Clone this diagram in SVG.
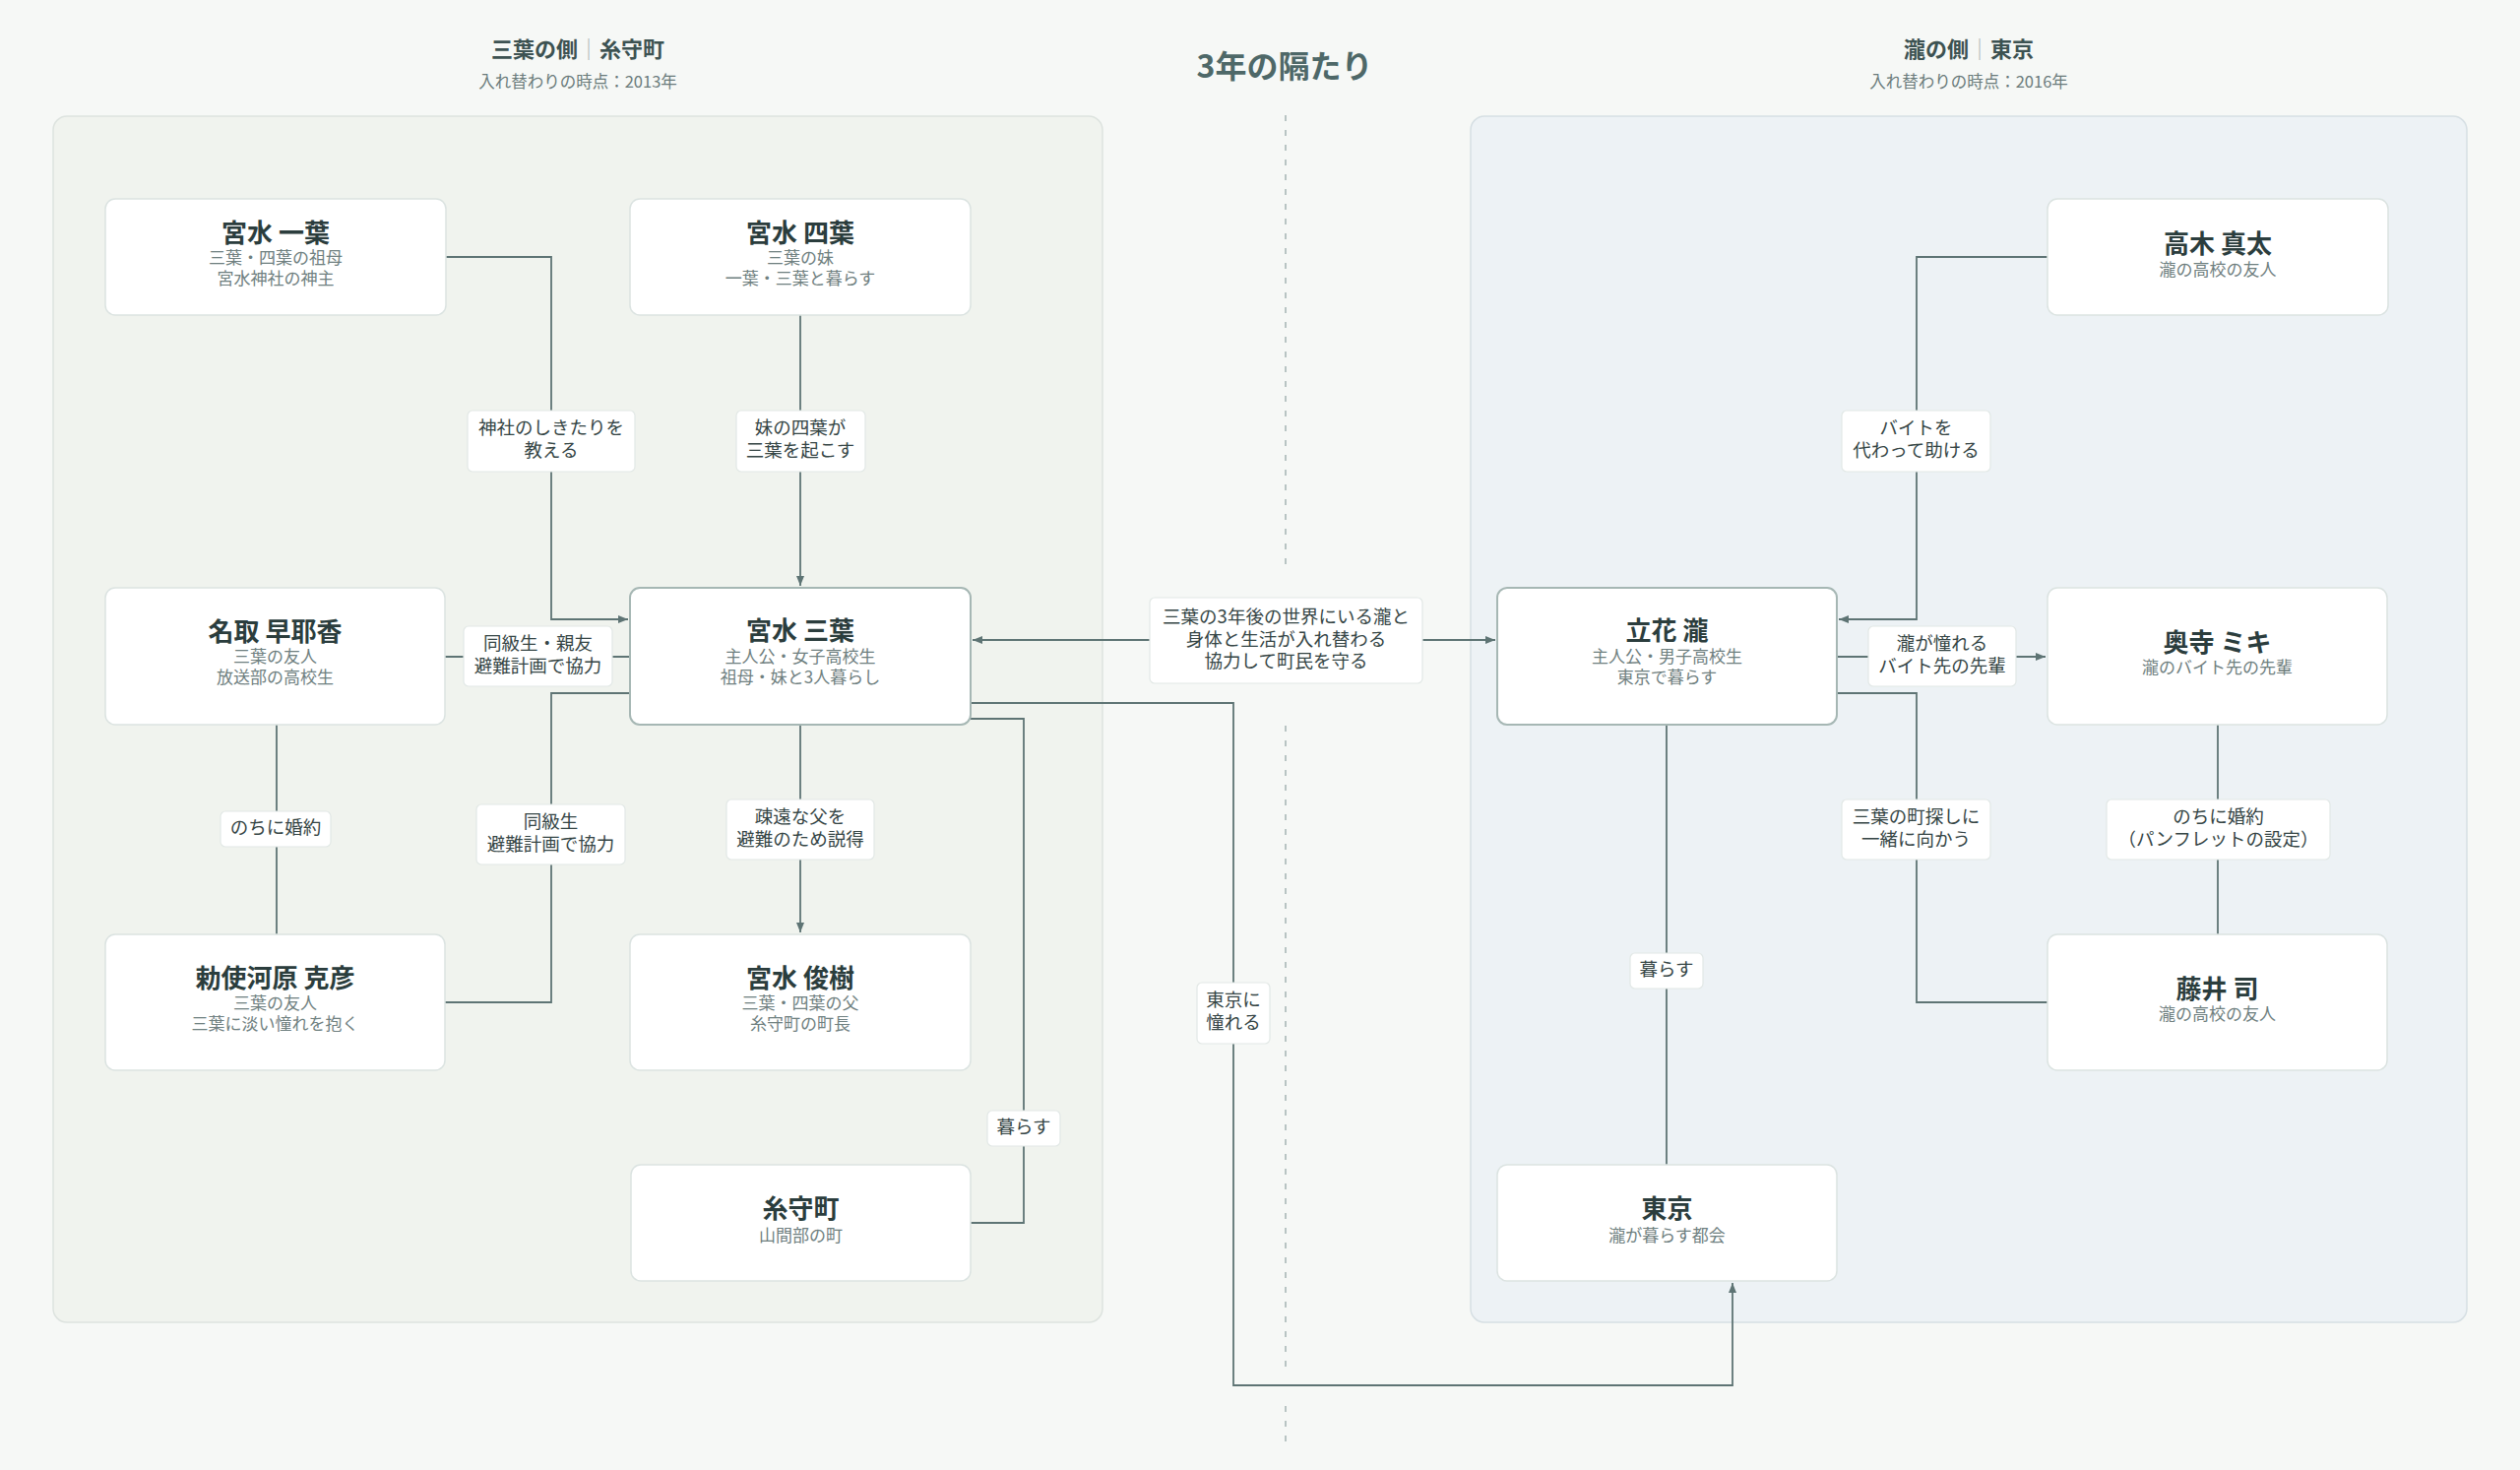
<svg xmlns="http://www.w3.org/2000/svg" width="2560" height="1493" viewBox="0 0 2560 1493">
<style>
text{font-family:"Noto Sans CJK JP","Noto Sans CJK SC",sans-serif;text-anchor:middle;dominant-baseline:central;transform:translateY(-3px)}
.bg{fill:#f6f8f6}
.pl{fill:#f0f3ee;stroke:#dde3df;stroke-width:1.5}
.pr{fill:#edf2f5;stroke:#d6dfe3;stroke-width:1.5}
.hd{font-size:22px;font-weight:700;fill:#3d5252}
.hs{font-size:16.5px;fill:#6a7b7b}
.gap{font-size:32px;font-weight:700;fill:#4e6868}
.nb{fill:#fff;stroke:#dbe3e1;stroke-width:1.5}
.nk{fill:#fff;stroke:#a6b7b4;stroke-width:2}
.nt{font-size:26px;font-weight:700;fill:#2b3d3d}
.ns{font-size:17px;fill:#6f8080}
.e{fill:none;stroke:#5e7474;stroke-width:1.8}
.lb{fill:#fff;stroke:#e2e8e6;stroke-width:1.2}
.lt{font-size:18.5px;fill:#354545}
.dv{stroke:#a4b3b3;stroke-width:1.5;stroke-dasharray:6 9}
</style>
<defs>
<marker id="ar" markerUnits="userSpaceOnUse" markerWidth="10" markerHeight="10" viewBox="0 0 10 10" refX="10" refY="5" orient="auto-start-reverse">
<path d="M0,1 L10,5 L0,9 Z" fill="#5e7474"/>
</marker>
</defs>
<rect class="bg" x="0" y="0" width="2560" height="1493"/>
<g id="panels">
<rect class="pl" x="54" y="118" width="1066" height="1225" rx="14"/>
<rect class="pr" x="1494" y="118" width="1012" height="1225" rx="14"/>
</g>
<g id="headers">
<text class="hd" x="587" y="51">三葉の側<tspan fill="#aab7b7" font-weight="400">｜</tspan>糸守町</text>
<text class="hs" x="587" y="85">入れ替わりの時点：2013年</text>
<text class="hd" x="2000" y="51">瀧の側<tspan fill="#aab7b7" font-weight="400">｜</tspan>東京</text>
<text class="hs" x="2000" y="85">入れ替わりの時点：2016年</text>
<text class="gap" x="1305" y="68">3年の隔たり</text>
</g>
<g id="divider">
<line class="dv" x1="1306" y1="117" x2="1306" y2="580"/>
<line class="dv" x1="1306" y1="737" x2="1306" y2="1388"/>
<line class="dv" x1="1306" y1="1428" x2="1306" y2="1468"/>
</g>
<g id="connectors">
<path class="e" d="M453,261 H560 V629 H638" marker-end="url(#ar)"/>
<path class="e" d="M813,320 V595" marker-end="url(#ar)"/>
<path class="e" d="M452,667 H640"/>
<path class="e" d="M640,704 H560 V1018 H452"/>
<path class="e" d="M281,736 V949"/>
<path class="e" d="M813,736 V947" marker-end="url(#ar)"/>
<path class="e" d="M986,730 H1040 V1242 H986"/>
<path class="e" d="M986,714 H1253 V1407 H1760 V1303" marker-end="url(#ar)"/>
<path class="e" d="M988,650 H1519" marker-start="url(#ar)" marker-end="url(#ar)"/>
<path class="e" d="M2080,261 H1947 V629 H1868" marker-end="url(#ar)"/>
<path class="e" d="M1866,667 H2078" marker-end="url(#ar)"/>
<path class="e" d="M1866,704 H1947 V1018 H2080"/>
<path class="e" d="M2253,736 V949"/>
<path class="e" d="M1693,736 V1183"/>
</g>
<g id="edge-labels">
<rect class="lb" x="475" y="417" width="170" height="62" rx="5"/>
<text class="lt" x="560" y="436">神社のしきたりを</text>
<text class="lt" x="560" y="459">教える</text>
<rect class="lb" x="748" y="417" width="131" height="62" rx="5"/>
<text class="lt" x="813" y="436">妹の四葉が</text>
<text class="lt" x="813" y="459">三葉を起こす</text>
<rect class="lb" x="471" y="636" width="151" height="61" rx="5"/>
<text class="lt" x="546.5" y="655">同級生・親友</text>
<text class="lt" x="546.5" y="678">避難計画で協力</text>
<rect class="lb" x="484" y="817" width="151" height="61" rx="5"/>
<text class="lt" x="559.5" y="836">同級生</text>
<text class="lt" x="559.5" y="859">避難計画で協力</text>
<rect class="lb" x="224" y="824" width="112" height="36" rx="5"/>
<text class="lt" x="280" y="842">のちに婚約</text>
<rect class="lb" x="738" y="812" width="150" height="61" rx="5"/>
<text class="lt" x="813" y="831">疎遠な父を</text>
<text class="lt" x="813" y="854">避難のため説得</text>
<rect class="lb" x="1003" y="1128" width="74" height="36" rx="5"/>
<text class="lt" x="1040" y="1146">暮らす</text>
<rect class="lb" x="1216" y="998" width="74" height="62" rx="5"/>
<text class="lt" x="1253" y="1017">東京に</text>
<text class="lt" x="1253" y="1040">憧れる</text>
<rect class="lb" x="1168" y="607" width="277" height="87" rx="5"/>
<text class="lt" x="1306.5" y="628">三葉の3年後の世界にいる瀧と</text>
<text class="lt" x="1306.5" y="650.5">身体と生活が入れ替わる</text>
<text class="lt" x="1306.5" y="673">協力して町民を守る</text>
<rect class="lb" x="1871" y="417" width="151" height="62" rx="5"/>
<text class="lt" x="1946.5" y="436">バイトを</text>
<text class="lt" x="1946.5" y="459">代わって助ける</text>
<rect class="lb" x="1898" y="636" width="150" height="61" rx="5"/>
<text class="lt" x="1973" y="655">瀧が憧れる</text>
<text class="lt" x="1973" y="678">バイト先の先輩</text>
<rect class="lb" x="1871" y="812" width="151" height="61" rx="5"/>
<text class="lt" x="1946.5" y="831">三葉の町探しに</text>
<text class="lt" x="1946.5" y="854">一緒に向かう</text>
<rect class="lb" x="2140" y="812" width="227" height="61" rx="5"/>
<text class="lt" x="2253.5" y="831">のちに婚約</text>
<text class="lt" x="2253.5" y="854">（パンフレットの設定）</text>
<rect class="lb" x="1656" y="968" width="74" height="36" rx="5"/>
<text class="lt" x="1693" y="986">暮らす</text>
</g>
<g id="n-hitoha">
<rect class="nb" x="107" y="202" width="346" height="118" rx="10"/>
<text class="nt" x="280" y="237">宮水 一葉</text>
<text class="ns" x="280" y="263">三葉・四葉の祖母</text>
<text class="ns" x="280" y="284">宮水神社の神主</text>
</g>
<g id="n-yotsuha">
<rect class="nb" x="640" y="202" width="346" height="118" rx="10"/>
<text class="nt" x="813" y="237">宮水 四葉</text>
<text class="ns" x="813" y="263">三葉の妹</text>
<text class="ns" x="813" y="284">一葉・三葉と暮らす</text>
</g>
<g id="n-sayaka">
<rect class="nb" x="107" y="597" width="345" height="139" rx="10"/>
<text class="nt" x="279.5" y="642">名取 早耶香</text>
<text class="ns" x="279.5" y="668">三葉の友人</text>
<text class="ns" x="279.5" y="689">放送部の高校生</text>
</g>
<g id="n-mitsuha">
<rect class="nk" x="640" y="597" width="346" height="139" rx="10"/>
<text class="nt" x="813" y="641">宮水 三葉</text>
<text class="ns" x="813" y="668">主人公・女子高校生</text>
<text class="ns" x="813" y="689">祖母・妹と3人暮らし</text>
</g>
<g id="n-katsuhiko">
<rect class="nb" x="107" y="949" width="345" height="138" rx="10"/>
<text class="nt" x="279.5" y="994">勅使河原 克彦</text>
<text class="ns" x="279.5" y="1020">三葉の友人</text>
<text class="ns" x="279.5" y="1041">三葉に淡い憧れを抱く</text>
</g>
<g id="n-toshiki">
<rect class="nb" x="640" y="949" width="346" height="138" rx="10"/>
<text class="nt" x="813" y="994">宮水 俊樹</text>
<text class="ns" x="813" y="1020">三葉・四葉の父</text>
<text class="ns" x="813" y="1041">糸守町の町長</text>
</g>
<g id="n-itomori">
<rect class="nb" x="641" y="1183" width="345" height="118" rx="10"/>
<text class="nt" x="813.5" y="1228">糸守町</text>
<text class="ns" x="813.5" y="1256">山間部の町</text>
</g>
<g id="n-takagi">
<rect class="nb" x="2080" y="202" width="346" height="118" rx="10"/>
<text class="nt" x="2253" y="248">高木 真太</text>
<text class="ns" x="2253" y="275">瀧の高校の友人</text>
</g>
<g id="n-taki">
<rect class="nk" x="1521" y="597" width="345" height="139" rx="10"/>
<text class="nt" x="1693.5" y="641">立花 瀧</text>
<text class="ns" x="1693.5" y="668">主人公・男子高校生</text>
<text class="ns" x="1693.5" y="689">東京で暮らす</text>
</g>
<g id="n-okudera">
<rect class="nb" x="2080" y="597" width="345" height="139" rx="10"/>
<text class="nt" x="2252.5" y="653">奥寺 ミキ</text>
<text class="ns" x="2252.5" y="679">瀧のバイト先の先輩</text>
</g>
<g id="n-fujii">
<rect class="nb" x="2080" y="949" width="345" height="138" rx="10"/>
<text class="nt" x="2252.5" y="1005">藤井 司</text>
<text class="ns" x="2252.5" y="1031">瀧の高校の友人</text>
</g>
<g id="n-tokyo">
<rect class="nb" x="1521" y="1183" width="345" height="118" rx="10"/>
<text class="nt" x="1693.5" y="1228">東京</text>
<text class="ns" x="1693.5" y="1256">瀧が暮らす都会</text>
</g>
</svg>
